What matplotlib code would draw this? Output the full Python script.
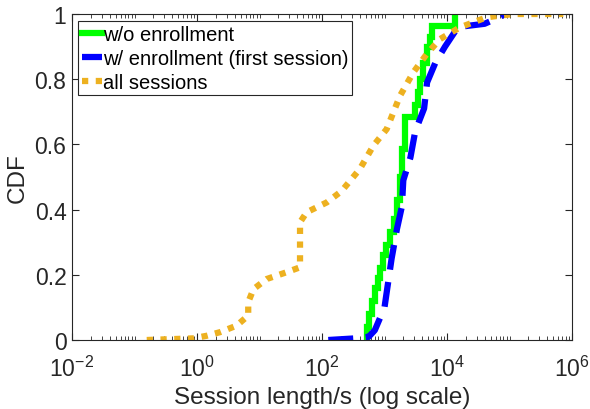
import matplotlib
matplotlib.use('Agg')
import matplotlib.pyplot as plt
from matplotlib.ticker import LogLocator, FixedLocator, FixedFormatter, NullFormatter

plt.rcParams['font.family'] = ['Liberation Sans', 'DejaVu Sans']
plt.rcParams['mathtext.fontset'] = 'custom'
plt.rcParams['mathtext.rm'] = 'Liberation Sans'

# CDF of session length (seconds)
no_enroll_x = [519, 519, 560, 624, 700, 780, 848, 950, 1060, 1225, 1400, 1567, 1750,
               1884, 2128, 3076, 3400, 3698, 4200, 4731, 5300, 5687, 13430]
no_enroll_cdf = [0.0, 0.04, 0.08, 0.12, 0.16, 0.19, 0.22, 0.26, 0.29, 0.33, 0.37, 0.43, 0.50,
                 0.586, 0.683, 0.72, 0.76, 0.80, 0.85, 0.90, 0.93, 0.964, 1.0]

enroll_x = [126, 340, 560, 700, 1000, 1150, 1300, 1580, 1900, 2000, 2600, 3100, 4300,
            4800, 6500, 9300, 15000, 40000, 60000, 85000]
enroll_cdf = [0.0, 0.005, 0.01, 0.03, 0.10, 0.18, 0.25, 0.34, 0.41, 0.49, 0.56, 0.64, 0.71,
              0.79, 0.85, 0.90, 0.96, 0.97, 0.985, 1.0]

all_x = [0.157, 0.87, 1.43, 2.33, 4.3, 6.6, 6.6, 8.0, 13.0, 27.2, 44.5, 44.5, 56.9, 119,
         194, 219, 405, 663, 1084, 1770, 2893, 4731, 7730, 16140, 43150, 115000, 726000]
all_cdf = [0.0, 0.005, 0.013, 0.024, 0.044, 0.075, 0.116, 0.156, 0.187, 0.208, 0.223, 0.361,
           0.392, 0.422, 0.453, 0.463, 0.525, 0.596, 0.647, 0.749, 0.821, 0.877, 0.923,
           0.959, 0.990, 1.0, 1.0]

xtick_vals = [1e-2, 1e0, 1e2, 1e4, 1e6]
xtick_labels = [r'$\mathregular{10^{-2}}$', r'$\mathregular{10^{0}}$', r'$\mathregular{10^{2}}$',
                r'$\mathregular{10^{4}}$', r'$\mathregular{10^{6}}$']
ytick_vals = [0, 0.2, 0.4, 0.6, 0.8, 1]
ytick_labels = ['0', '0.2', '0.4', '0.6', '0.8', '1']

fig = plt.figure(figsize=(5.9, 4.1), dpi=100)
ax = fig.add_axes([72 / 590, 69 / 410, 500 / 590, 326 / 410])

ax.plot(no_enroll_x, no_enroll_cdf, color='#00FF00', lw=4.5, drawstyle='steps-post',
        solid_joinstyle='miter', label='w/o enrollment')
ax.plot(enroll_x, enroll_cdf, color='#0000FF', lw=4.5, linestyle=(0, (4, 2)),
        label='w/ enrollment (first session)')
ax.plot(all_x, all_cdf, color='#EDB120', lw=4.5, linestyle=(0, (1, 1.2)),
        dash_capstyle='butt', label='all sessions')

ax.set_xscale('log')
ax.set_xlim(1e-2, 1e6)
ax.set_ylim(0, 1)
ax.xaxis.set_major_locator(FixedLocator(xtick_vals))
ax.xaxis.set_major_formatter(FixedFormatter(xtick_labels))
ax.xaxis.set_minor_locator(LogLocator(base=10, subs=range(1, 10), numticks=100))
ax.xaxis.set_minor_formatter(NullFormatter())
ax.set_yticks(ytick_vals)
ax.set_yticklabels(ytick_labels)

ax.tick_params(which='both', direction='in', top=True, right=True, colors='#262626',
               labelsize=16.5, labelcolor='#262626')
ax.tick_params(which='major', length=5, width=0.8)
ax.tick_params(which='minor', length=3, width=0.6)
ax.tick_params(axis='x', which='major', pad=11)
ax.tick_params(axis='y', which='major', pad=4)
for s in ax.spines.values():
    s.set_color('#262626')
    s.set_linewidth(0.8)

ax.set_xlabel('Session length/s (log scale)', fontsize=17.5, color='#262626', labelpad=4)
ax.set_ylabel('CDF', fontsize=17.5, color='#262626', labelpad=4)

leg = ax.legend(loc='upper left', bbox_to_anchor=(0.012, 0.9785), borderaxespad=0,
                fontsize=14.5, handlelength=1.0, handletextpad=0.05, labelspacing=0.25,
                borderpad=0.18, fancybox=False, framealpha=1)
leg.get_frame().set_edgecolor('#262626')
leg.get_frame().set_linewidth(0.8)

fig.savefig('out.png', dpi=100)
